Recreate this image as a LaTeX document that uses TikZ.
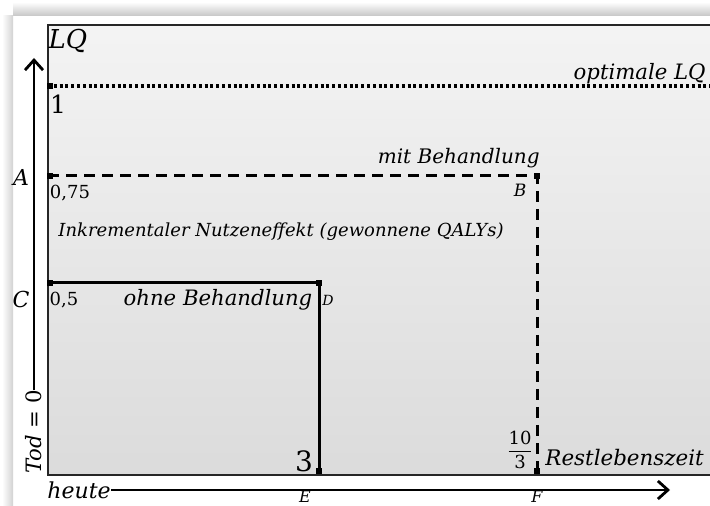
\documentclass[tikz,border=0pt]{standalone}
\usepackage{amsmath,amssymb}
\usepackage{fontspec}
\setmainfont{DejaVu Serif}
\usepackage{xcolor}
\usepackage{tikz}
\usetikzlibrary{arrows.meta,positioning,calc}

\begin{document}
\begin{tikzpicture}[x=0.5pt,y=-0.5pt,
    >={Straight Barb[length=5pt,width=9pt]},
    mk/.style={fill=black,inner sep=0pt,minimum size=3pt},
    lab/.style={inner sep=0pt,font=\fontsize{10.6}{12}\selectfont\itshape},
    small/.style={inner sep=0pt,font=\fontsize{8.5}{10}\selectfont\itshape},
    num/.style={inner sep=0pt,font=\fontsize{9}{11}\selectfont}]
        \useasboundingbox (0,0) rectangle (710,506);
        % frame with shadow
        \fill[white] (0,0) rectangle (710,506);
        \shade[top color=white,bottom color=gray!45] (13,2) rectangle (710,16);
        \shade[left color=white,right color=gray!35] (2,16) rectangle (13,506);
        \shade[top color=gray!9,bottom color=gray!28,draw=black!85,line width=0.7pt] (48,25) rectangle (714,475);

        % points
        \coordinate (one) at (48,86);
        \coordinate (optend) at (710,86);
        \coordinate (A) at (48,176);
        \coordinate (B) at (537,176);
        \coordinate (F) at (537,473);
        \coordinate (C) at (48,283);
        \coordinate (D) at (319,283);
        \coordinate (E) at (319,473);

        % optimale LQ
        \draw[line width=1.6pt,dash pattern=on 1.5pt off 1.4pt] (one) -- (optend);
        % mit Behandlung
        \draw[line width=1.5pt,dash pattern=on 5.5pt off 3.5pt] (A) -- (B) -- (F);
        % ohne Behandlung
        \draw[line width=1.5pt] (C) -- (D) -- (E);

        \node[mk] (m1) at (50,86) {};
        \node[mk] (mA) at (50,176) {};
        \node[mk] (mB) at (B) {};
        \node[mk] (mF) at (537,471) {};
        \node[mk] (mC) at (50,283) {};
        \node[mk] (mD) at (D) {};
        \node[mk] (mE) at (319,471) {};

        % axes
        \node[lab,rotate=90] (tod) at (34,432) {Tod = \upshape 0};
        \coordinate (ytip) at (35,58);
        \draw[->,line width=1.4pt] (tod.east) -- (tod.east |- ytip);
        \node[lab,font=\fontsize{11}{13}\selectfont\itshape] (heute) at (79,490) {heute};
        \coordinate (xtip) at (670,488);
        \draw[->,line width=1.4pt] (heute.east) -- (heute.east -| xtip);

        % labels
        \node[lab,font=\fontsize{13}{15}\selectfont\itshape] (lq) at (68,41) {LQ};
        \node[num,font=\fontsize{12.5}{14}\selectfont] (v1) at (58,104) {1};
        \node[lab,anchor=base east] (opt) at (706,80) {optimale LQ};
        \node[lab,anchor=base east,font=\fontsize{10}{12}\selectfont\itshape] (mit) at (540,164) {mit Behandlung};
        \node[lab,font=\fontsize{11}{13}\selectfont\itshape] (labA) at (21,177) {A};
        \node[num] (v075) at (70,193) {0,75};
        \node[small] (labB) at (520,190) {B};
        \node[small,font=\fontsize{9}{11}\selectfont\itshape] (ink) at (281,232) {Inkrementaler Nutzeneffekt (gewonnene QALYs)};
        \node[lab,font=\fontsize{11}{13}\selectfont\itshape] (labC) at (21,299) {C};
        \node[num] (v05) at (64,300) {0,5};
        \node[lab] (ohne) at (218,300) {ohne Behandlung};
        \node[small,font=\fontsize{7}{9}\selectfont\itshape] (labD) at (328,300) {D};
        \node[num,font=\fontsize{14}{16}\selectfont] (v3) at (304,461) {3};
        \node[num] (v103) at (520,450) {$\dfrac{\text{10}}{\text{3}}$};
        \node[lab,anchor=base west,font=\fontsize{10.7}{13}\selectfont\itshape] (rest) at (545,466) {Restlebenszeit};
        \node[small,font=\fontsize{8}{10}\selectfont\itshape] (labE) at (305,497) {E};
        \node[small,font=\fontsize{8}{10}\selectfont\itshape] (labF) at (537,497) {F};
    \end{tikzpicture}
\end{document}
